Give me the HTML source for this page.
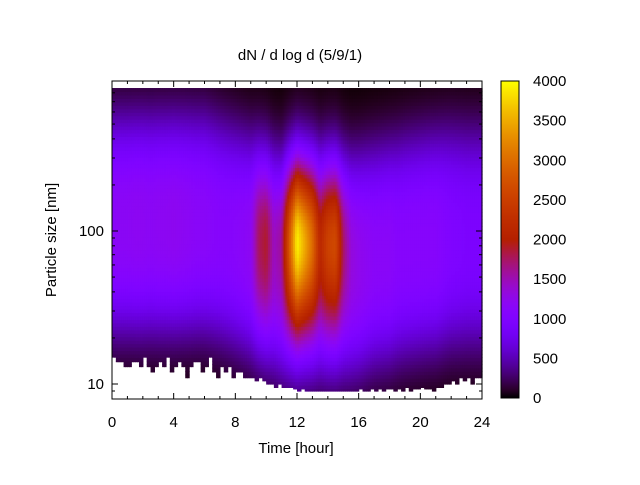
<!DOCTYPE html>
<html><head><meta charset="utf-8"><style>
body{margin:0;background:#fff}
svg text{font-family:"Liberation Sans","DejaVu Sans",sans-serif;font-size:15px;fill:#000}
</style></head><body>
<svg id="c" width="640" height="480" xmlns="http://www.w3.org/2000/svg">
<rect width="640" height="480" fill="#fff"/>
<g id="cells"></g>
<g id="axes"></g>
<defs><linearGradient id="pal" x1="0" y1="1" x2="0" y2="0"></linearGradient></defs>
<rect x="501" y="81" width="18" height="317" fill="url(#pal)" stroke="#000"/>
<text x="300" y="60" text-anchor="middle">dN / d log d (5/9/1)</text>
<text x="296" y="453" text-anchor="middle">Time [hour]</text>
<text transform="translate(56,240) rotate(-90)" text-anchor="middle">Particle size [nm]</text>
</svg>
<script>
// data at 0.5 h resolution
const times=[0,0.5,1,1.5,2,2.5,3,3.5,4,4.5,5,5.5,6,6.5,7,7.5,8,8.5,9,9.5,10,10.5,11,11.5,12,12.5,13,13.5,14,14.5,15,15.5,16,16.5,17,17.5,18,18.5,19,19.5,20,20.5,21,21.5,22,22.5,23,23.5,24];
const backgroundValues=[1150,1180,1180,1200,1200,1180,1200,1200,1220,1200,1180,1150,1150,1120,1100,1100,1120,1150,1200,1250,1250,1250,1250,1300,1350,1300,1300,1250,1300,1300,1250,1250,1250,1200,1150,1150,1150,1100,1100,1100,1100,1100,1100,1050,1000,980,950,950,950];
const modeSizes=[110,110,110,110,110,110,110,110,110,110,110,110,110,105,100,95,90,85,80,75,70,65,60,60,60,60,60,60,60,60,60,60,62,65,68,70,72,75,78,80,82,84,85,88,90,90,90,90,90];
const eventValues=[0,0,0,0,0,0,0,0,0,0,0,0,0,0,0,0,0,0,0,500,650,200,350,1500,2600,2200,1700,900,1250,1350,500,100,0,0,0,0,0,0,0,0,0,0,0,0,0,0,0,0,0];
// lower size cutoff at 0.25 h resolution (nm)
const cutoffSizes=[15,14,14,13,13,14,14,13,15,13,12,13,14,13,15,12,13,14,13,11,13,14,14,12,13,15,12,11,13,12,13,11,12,12,11,11,11,10.5,11,10.5,10,10,9.5,10,9.5,9.5,9.5,9.3,9,9.3,9,9,9,9,9,9,9,9,9,9,9,9,9,9,9.3,9,9,9.3,9,9.3,9,9.3,9.3,9,9.3,9,9.5,9,9.3,9.3,9.5,9.3,9.3,9,9.5,9.5,10,10,10.5,10,11,10.5,11,10,11,11];
const cbTicks=[0,500,1000,1500,2000,2500,3000,3500,4000];
const xTicks=[0,4,8,12,16,20,24];
const yTicks=[10,100];

const NS="http://www.w3.org/2000/svg";
const X=t=>112+t*370/24;
const Y=d=>231-(Math.log10(d)-2)*153;
const cb=v=>398-v/4000*317;
function col(v){let x=Math.max(0,Math.min(1,v/4000));
 const r=Math.sqrt(x),g=x*x*x,b=Math.max(0,Math.sin(2*Math.PI*x));
 return `rgb(${Math.round(r*255)},${Math.round(g*255)},${Math.round(b*255)})`;}
function interp(arr,t){const i=Math.min(times.length-2,Math.floor(t/0.5));const f=(t-times[i])/0.5;return arr[i]*(1-f)+arr[i+1]*f;}
function mk(tag,at,parent){const e=document.createElementNS(NS,tag);for(const k in at)e.setAttribute(k,at[k]);parent.appendChild(e);return e;}
const cells=document.getElementById('cells');
const dt=0.125, nr=90, lmin=Math.log10(8), lmax=Math.log10(860);
for(let t=0;t<24;t+=dt){
 const tc=t+dt/2, B=interp(backgroundValues,tc), M=interp(modeSizes,tc), E=interp(eventValues,tc);
 const cut=cutoffSizes[Math.min(95,Math.floor(t/0.25))];
 for(let j=0;j<nr;j++){
  const l0=lmin+(lmax-lmin)*j/nr, l1=lmin+(lmax-lmin)*(j+1)/nr;
  if(Math.pow(10,l1)<=cut) continue;
  const lo=Math.max(l0,Math.log10(cut));
  const lc=(l0+l1)/2;
  const d=lc-Math.log10(M);
  const w=d<0?0.72:0.72;
  const de=lc-Math.log10(85);
  const v=B*Math.exp(-Math.pow(Math.abs(d)/w,3))+E*Math.exp(-de*de/(2*0.37*0.37));
  const y1=Y(Math.pow(10,l1)), y0=Y(Math.pow(10,lo));
  const r=mk('rect',{x:X(t).toFixed(2),y:y1.toFixed(2),width:(X(t+dt)-X(t)+0.6).toFixed(2),height:(y0-y1+0.6).toFixed(2),fill:col(v)},cells);
  
  
 }
}
const ax=document.getElementById('axes');
mk('rect',{x:112,y:81,width:370,height:318,fill:'none',stroke:'#000'},ax);
for(let h=0;h<=24;h++){const x=X(h),L=h%4==0?6:3;
 mk('line',{x1:x,y1:399,x2:x,y2:399-L,stroke:'#000'},ax);mk('line',{x1:x,y1:81,x2:x,y2:81+L,stroke:'#000'},ax);}
xTicks.forEach(h=>{const t=mk('text',{x:X(h),y:427,'text-anchor':'middle'},ax);t.textContent=h;
 });
[9,10,20,30,40,50,60,70,80,90,100,200,300,400,500,600,700,800].forEach(d=>{const y=Y(d);if(y>399||y<81)return;const L=(d==10||d==100)?6:3;
 mk('line',{x1:112,y1:y,x2:112+L,y2:y,stroke:'#000'},ax);mk('line',{x1:482,y1:y,x2:482-L,y2:y,stroke:'#000'},ax);});
yTicks.forEach(d=>{const t=mk('text',{x:104,y:Y(d)+5,'text-anchor':'end'},ax);t.textContent=d;
 });
const g=document.getElementById('pal');
for(let i=0;i<=40;i++)mk('stop',{offset:i/40,'stop-color':col(i*100)},g);
cbTicks.forEach(v=>{const y=cb(v);
 mk('line',{x1:501,y1:y,x2:505,y2:y,stroke:'#000'},ax);mk('line',{x1:519,y1:y,x2:515,y2:y,stroke:'#000'},ax);
 const t=mk('text',{x:533,y:y+5},ax);t.textContent=v;
 });
</script>
</body></html>
